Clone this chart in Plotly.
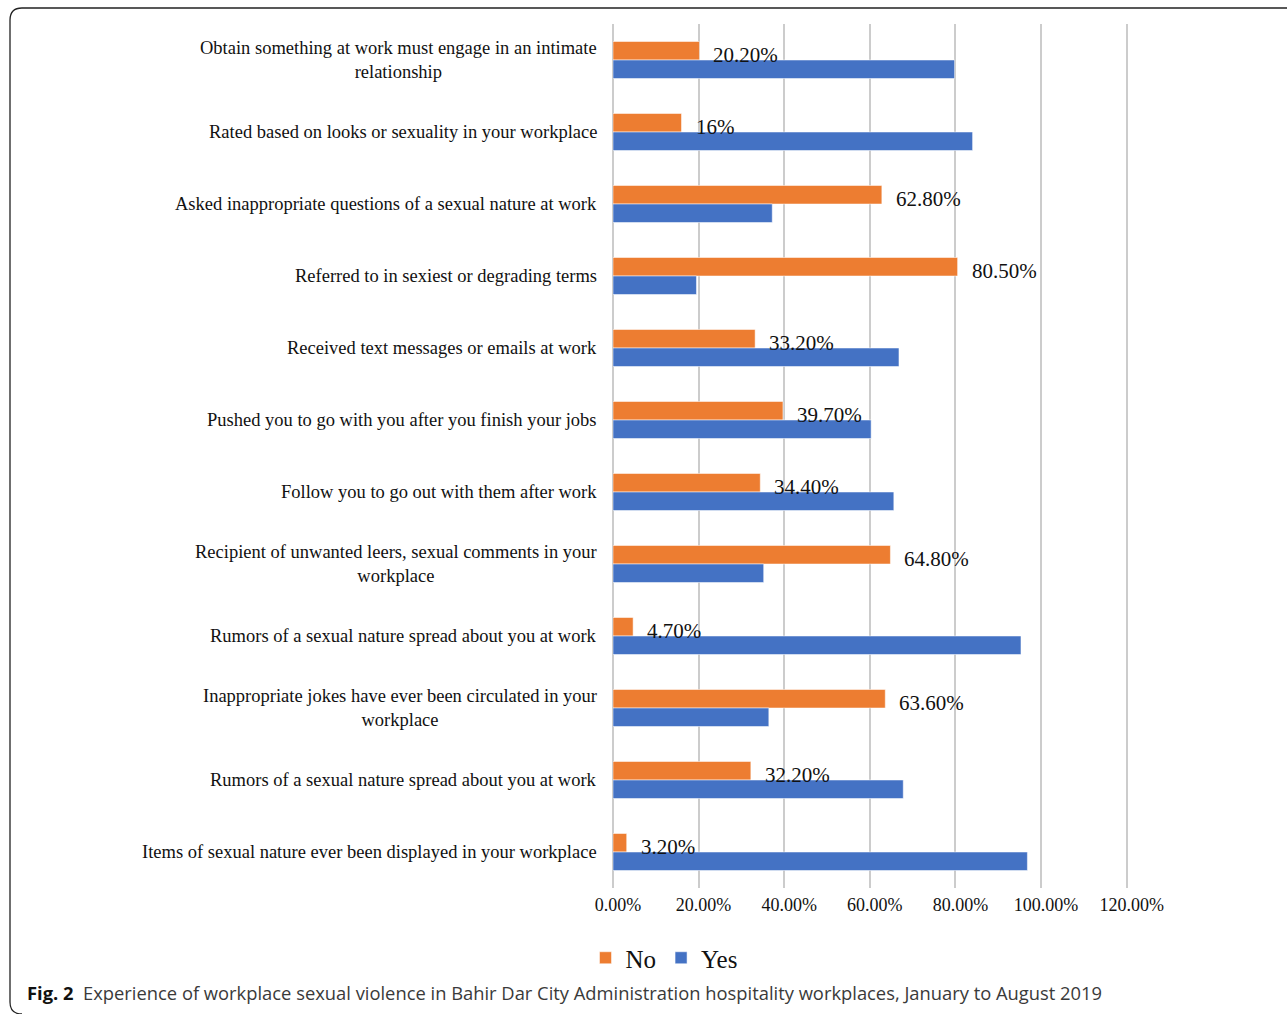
import plotly.graph_objects as go

categories = [
    "Obtain something at work must engage in an intimate<br>relationship",
    "Rated based on looks or sexuality in your workplace",
    "Asked inappropriate questions of a sexual nature at work",
    "Referred to in sexiest or degrading terms",
    "Received text messages or emails at work",
    "Pushed you to go with you after you finish your jobs",
    "Follow you to go out with them after work",
    "Recipient of unwanted leers, sexual comments in your<br>workplace",
    "Rumors of a sexual nature spread about you at work",
    "Inappropriate jokes have ever been circulated in your<br>workplace",
    "Rumors of a sexual nature spread about you at work",
    "Items of sexual nature ever been displayed in your workplace",
]
no_values = [20.2, 16.0, 62.8, 80.5, 33.2, 39.7, 34.4, 64.8, 4.7, 63.6, 32.2, 3.2]
yes_values = [79.8, 84.0, 37.2, 19.5, 66.8, 60.3, 65.6, 35.2, 95.3, 36.4, 67.8, 96.8]
no_labels = ["20.20%", "16%", "62.80%", "80.50%", "33.20%", "39.70%", "34.40%",
             "64.80%", "4.70%", "63.60%", "32.20%", "3.20%"]
x_ticks = [0, 20, 40, 60, 80, 100, 120]
x_tick_labels = ["0.00%", "20.00%", "40.00%", "60.00%", "80.00%", "100.00%", "120.00%"]
caption_bold = "Fig. 2"
caption_text = "Experience of workplace sexual violence in Bahir Dar City Administration hospitality workplaces, January to August 2019"

W, H = 1287, 1014
PL, PR, PT, PB = 613, 1131, 24, 888  # plot area in pixels
XMAX = 121


def px_x(px):
    return (px - PL) / (PR - PL)


def px_y(py):
    return (PB - py) / (PB - PT)


pos = list(range(len(categories)))
SERIF = "Liberation Serif, Times New Roman, serif"
ORANGE = "#ED7D31"
BLUE = "#4472C4"

fig = go.Figure()
fig.add_trace(go.Bar(y=pos, x=no_values, orientation="h", name="No",
                     marker=dict(color=ORANGE, line=dict(color="rgba(255,255,255,0.5)", width=1)),
                     hoverinfo="x"))
fig.add_trace(go.Bar(y=pos, x=yes_values, orientation="h", name="Yes",
                     marker=dict(color=BLUE, line=dict(color="rgba(255,255,255,0.5)", width=1)),
                     hoverinfo="x"))

annotations = []
for p, cat in zip(pos, categories):
    annotations.append(dict(x=0, xref="paper", y=p, yref="y", text=cat, showarrow=False,
                            xanchor="right", yanchor="middle", align="center", xshift=-14,
                            font=dict(family=SERIF, size=18.5, color="#111111")))
for p, v, lab in zip(pos, no_values, no_labels):
    annotations.append(dict(x=v, xref="x", y=p, yref="y", text=lab, showarrow=False,
                            xanchor="left", yanchor="middle", xshift=12, yshift=5.5,
                            font=dict(family=SERIF, size=21, color="#111111")))
annotations.append(dict(x=px_x(25), xref="paper", y=px_y(993), yref="paper",
                        text="<b>" + caption_bold + "</b>&nbsp;&nbsp;<span style='color:#3a3a3a'>" + caption_text + "</span>",
                        showarrow=False, xanchor="left", yanchor="middle",
                        font=dict(family="Open Sans, Noto Sans, sans-serif", size=18.35, color="#111111")))

# rounded frame (top and left sides)
x0, x1 = px_x(10), px_x(1300)
yt, yb = px_y(8), px_y(1014)
rx, ry = 12 / (PR - PL), 12 / (PB - PT)
frame = (f"M {x1},{yt} L {x0 + rx},{yt} Q {x0},{yt} {x0},{yt - ry} "
         f"L {x0},{px_y(1002)} Q {x0},{yb} {x0 + rx},{yb}")

fig.update_layout(
    width=W, height=H,
    margin=dict(l=PL, r=W - PR, t=PT, b=H - PB, pad=0),
    paper_bgcolor="white", plot_bgcolor="white",
    barmode="group", bargap=0.486, bargroupgap=0,
    showlegend=True,
    legend=dict(orientation="h", x=px_x(664), xanchor="center", y=px_y(958), yanchor="middle",
                font=dict(family=SERIF, size=25, color="#111111"), traceorder="normal",
                itemwidth=30, bgcolor="rgba(0,0,0,0)"),
    xaxis=dict(range=[0, XMAX], tickvals=x_ticks, ticktext=x_tick_labels, showgrid=True,
               gridcolor="#cccccc", gridwidth=1.5, zeroline=True, zerolinecolor="#cccccc",
               zerolinewidth=1.5, showline=False, ticks="", ticklabelstandoff=4,
               ticklabelshift=5,
               tickfont=dict(family=SERIF, size=18, color="#111111"), fixedrange=True),
    yaxis=dict(range=[len(categories) - 0.5, -0.5], showticklabels=False, showgrid=False,
               zeroline=False, showline=False, ticks="", fixedrange=True),
    annotations=annotations,
    shapes=[dict(type="path", path=frame, xref="paper", yref="paper",
                 line=dict(color="#222222", width=1.3), layer="above")],
)

fig.write_html("out.html", config={"displayModeBar": False},
               post_script="document.body.style.margin='0px';")
